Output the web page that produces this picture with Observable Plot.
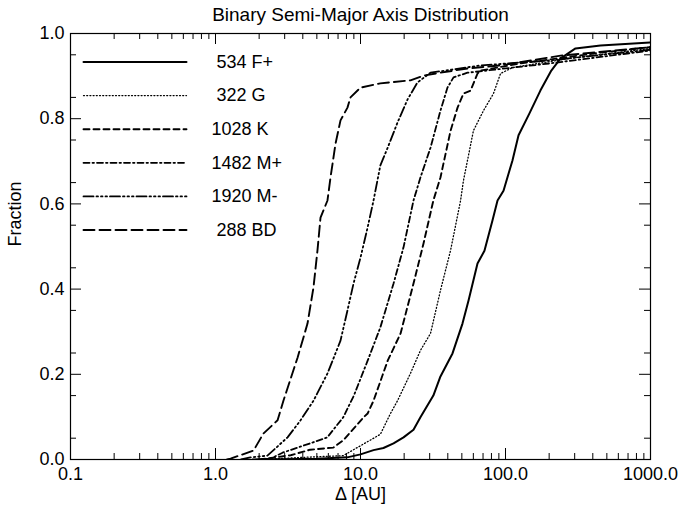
<!DOCTYPE html>
<html>
<head>
<meta charset="utf-8">
<script src="https://cdn.jsdelivr.net/npm/d3@7"></script>
<script src="https://cdn.jsdelivr.net/npm/@observablehq/plot@0.6"></script>
<style>
  html, body { margin: 0; padding: 0; background: white; }
</style>
</head>
<body>
<div id="chart"></div>
<script>
// ---------- data ----------
const titleText = "Binary Semi-Major Axis Distribution";
const xLabel = "Δ [AU]";
const yLabel = "Fraction";
const xTickValues = [0.1, 1, 10, 100, 1000];
const yTickValues = [0, 0.2, 0.4, 0.6, 0.8, 1.0];

const seriesCounts = [534, 322, 1028, 1482, 1920, 288];
const seriesNames = ["F+", "G", "K", "M+", "M-", "BD"];

const fpX = [2.0, 5.0, 8.1, 10.0, 12.3, 14.4, 16.9, 19.8, 23.2, 25.9, 31.8, 35.6, 43.1, 50.5, 55.6, 64.1, 71.6, 81.3, 88.1, 96.9, 111.7, 123, 146, 174, 207, 239, 304, 452, 1000];
const fpY = [0, 0.002, 0.005, 0.012, 0.022, 0.027, 0.038, 0.052, 0.07, 0.099, 0.15, 0.195, 0.249, 0.319, 0.373, 0.46, 0.49, 0.561, 0.608, 0.631, 0.702, 0.761, 0.812, 0.866, 0.913, 0.941, 0.965, 0.972, 0.979];

const gX = [2.0, 4.0, 7.6, 13.7, 16.1, 18.0, 22.1, 25.9, 30.4, 35.6, 41.8, 49.0, 51.3, 60.1, 70.5, 82.6, 92.4, 111.7, 268, 1000];
const gY = [0, 0.005, 0.009, 0.059, 0.108, 0.138, 0.202, 0.256, 0.296, 0.397, 0.491, 0.608, 0.655, 0.772, 0.819, 0.859, 0.906, 0.920, 0.941, 0.965];

const kX = [2.0, 3.3, 4.5, 6.5, 7.6, 10.5, 11.2, 12.3, 15.4, 18.9, 23.2, 27.2, 31.8, 35.6, 41.8, 46.7, 51.3, 57.4, 64.1, 67.3, 128, 452, 1000];
const kY = [0, 0.01, 0.023, 0.028, 0.045, 0.099, 0.108, 0.138, 0.232, 0.296, 0.413, 0.507, 0.608, 0.662, 0.772, 0.826, 0.859, 0.866, 0.906, 0.913, 0.93, 0.955, 0.968];

const mpX = [1.8, 2.4, 2.9, 4.5, 5.9, 7.6, 9.0, 11.2, 13.7, 16.9, 19.8, 23.2, 25.9, 30.4, 35.6, 39.8, 43.8, 54.7, 205, 1000];
const mpY = [0, 0.002, 0.016, 0.038, 0.052, 0.099, 0.15, 0.232, 0.31, 0.413, 0.498, 0.608, 0.662, 0.732, 0.819, 0.873, 0.897, 0.908, 0.93, 0.96];

const mmX = [1.5, 1.74, 2.28, 3.14, 3.86, 4.74, 5.92, 7.28, 8.13, 8.95, 10.0, 11.2, 12.3, 13.7, 15.4, 18.0, 21.1, 24.7, 30.4, 67.3, 205, 1000];
const mmY = [0, 0.005, 0.009, 0.052, 0.092, 0.138, 0.202, 0.279, 0.35, 0.413, 0.474, 0.545, 0.608, 0.69, 0.732, 0.791, 0.845, 0.885, 0.908, 0.925, 0.937, 0.962];

const bdX = [1.2, 1.27, 1.83, 2.14, 2.68, 2.94, 3.68, 4.31, 4.74, 5.05, 5.30, 5.92, 6.21, 6.73, 7.28, 8.13, 8.53, 10.0, 13.7, 22.1, 27.2, 35.6, 54.7, 92.4, 240, 1000];
const bdY = [0, 0.002, 0.021, 0.061, 0.092, 0.138, 0.239, 0.319, 0.404, 0.491, 0.568, 0.608, 0.662, 0.742, 0.796, 0.826, 0.850, 0.873, 0.883, 0.890, 0.901, 0.908, 0.918, 0.925, 0.948, 0.968];

// ---------- styles ----------
const seriesXs = [fpX, gX, kX, mpX, mmX, bdX];
const seriesYs = [fpY, gY, kY, mpY, mmY, bdY];
const dashes = ["none", "1,2.2", "6,4", "6,3,1.5,3", "10,3,1.5,3,1.5,3,1.5,3", "11,5"];
const widths = [2, 1.3, 1.9, 1.8, 1.8, 1.9];

const W = 691, H = 508;
const mL = 70, mR = 41, mT = 33, mB = 49;
const fw = W - mL - mR, fh = H - mT - mB;
const xmin = 0.1, xmax = 1000;
const decades = Math.log10(xmax / xmin);
const fx = f => xmin * Math.pow(10, decades * f);   // frame fraction -> x data
const fy = f => 1 - f;                              // frame fraction from top -> y data

const majorLen = 11, minorLen = 6;

// tick sets
const xMinor = [];
for (const d of [0.1, 1, 10, 100]) for (let k = 2; k <= 9; k++) xMinor.push(d * k);
const yMinor = d3.range(0.05, 1, 0.1).map(v => +v.toFixed(2));

const tickRows = [];
for (const v of xTickValues) tickRows.push({v, len: majorLen});
for (const v of xMinor) tickRows.push({v, len: minorLen});
const yTickRows = [];
for (const v of yTickValues) yTickRows.push({v, len: majorLen});
for (const v of yMinor) yTickRows.push({v, len: minorLen});

const series = seriesXs.map((xs, i) => xs.map((x, j) => ({x, y: seriesYs[i][j]})));

// legend geometry (frame fractions)
const legX0 = (83 - mL) / fw, legX1 = (186 - mL) / fw, legTx = (211 - mL) / fw;
const legY0 = (61.5 - mT) / fh, legStep = 33.6 / fh;
const legendRows = seriesCounts.map((c, i) => ({
  i,
  label: (c < 1000 ? " " : "") + c + " " + seriesNames[i],
  y: fy(legY0 + i * legStep)
}));

const font = "'Liberation Sans', Arial, Helvetica, sans-serif";

const marks = [
  Plot.frame({stroke: "black", strokeWidth: 1.2}),
  // bottom & top x ticks
  Plot.ruleX(tickRows, {x: "v", y1: 0, y2: d => d.len / fh, stroke: "black", strokeWidth: 1}),
  Plot.ruleX(tickRows, {x: "v", y1: 1, y2: d => 1 - d.len / fh, stroke: "black", strokeWidth: 1}),
  // left & right y ticks
  Plot.ruleY(yTickRows, {y: "v", x1: xmin, x2: d => fx(d.len / fw), stroke: "black", strokeWidth: 1}),
  Plot.ruleY(yTickRows, {y: "v", x1: xmax, x2: d => fx(1 - d.len / fw), stroke: "black", strokeWidth: 1}),
  Plot.axisX({ticks: xTickValues, tickFormat: d => d.toFixed(1), tickSize: 0, tickPadding: 8, label: null, fontSize: 18}),
  Plot.axisY({ticks: yTickValues, tickFormat: d => d.toFixed(1), tickSize: 0, tickPadding: 6, label: null, fontSize: 18}),
  ...series.map((s, i) => Plot.line(s, {x: "x", y: "y", stroke: "black", strokeWidth: widths[i], strokeDasharray: dashes[i], clip: true})),
  // legend
  ...legendRows.map(r => Plot.line([{x: fx(legX0), y: r.y}, {x: fx(legX1), y: r.y}], {x: "x", y: "y", stroke: "black", strokeWidth: widths[r.i], strokeDasharray: dashes[r.i]})),
  Plot.text(legendRows, {x: () => fx(legTx), y: "y", text: "label", textAnchor: "start", lineAnchor: "middle", fontSize: 18, fill: "black"}),
  // titles
  Plot.text([titleText], {frameAnchor: "top", dy: -19, lineAnchor: "middle", fontSize: 19, fill: "black"}),
  Plot.text([xLabel], {frameAnchor: "bottom", dy: 35, lineAnchor: "middle", fontSize: 18, fill: "black"}),
  Plot.text([yLabel], {frameAnchor: "left", dx: -55, rotate: -90, lineAnchor: "middle", fontSize: 18, fill: "black"})
];

const chart = Plot.plot({
  width: W, height: H,
  marginLeft: mL, marginRight: mR, marginTop: mT, marginBottom: mB,
  x: {type: "log", domain: [xmin, xmax]},
  y: {domain: [0, 1]},
  style: {fontFamily: font, fontSize: "18px", background: "white", color: "black"},
  marks
});
document.getElementById("chart").appendChild(chart);
</script>
</body>
</html>
